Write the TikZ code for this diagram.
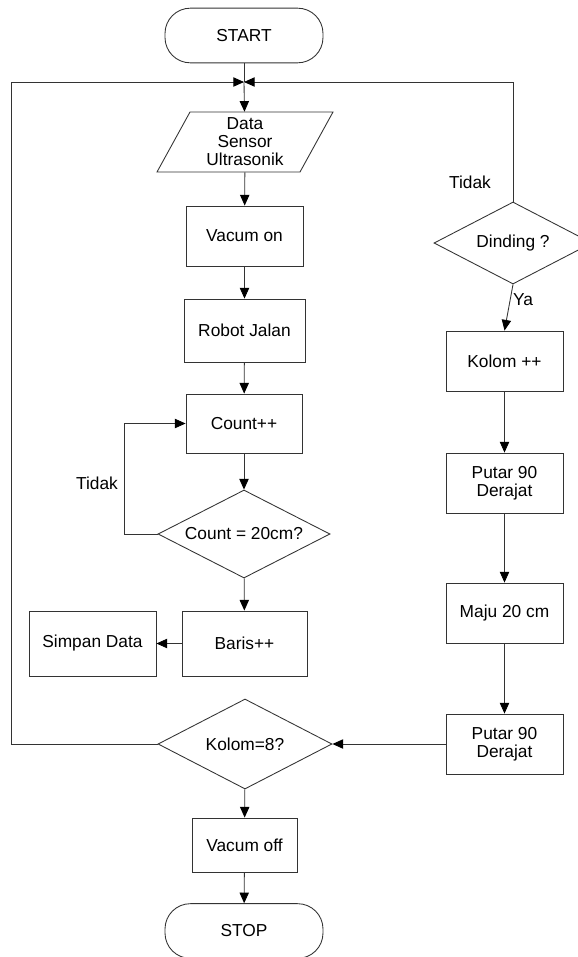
\documentclass[tikz,border=0pt]{standalone}
\usepackage{fontspec}
\setmainfont{Liberation Sans}
\usetikzlibrary{shapes.geometric,arrows.meta}
\begin{document}
\begin{tikzpicture}[x=0.75pt,y=-0.75pt,
  every node/.style={font=\fontsize{13}{13.5}\selectfont, text=black},
  ln/.style={draw=black!80, line width=0.65pt},
  arr/.style={ln, -{Triangle[length=8pt,width=7pt,color=black]}},
  term/.style={ln, rectangle, rounded corners=19pt, minimum width=118.5pt, minimum height=41pt},
  proc/.style={ln, rectangle, align=center, minimum width=87.75pt, minimum height=45pt},
  dec/.style={ln, diamond, shape aspect=2, inner sep=1pt, align=center},
  lbl/.style={inner sep=1pt}
]
\clip (0,0) rectangle (578,957);
\fill[white] (0,0) rectangle (578,957);

\node[term] (start) at (244,35.5) {START};
\coordinate (j) at (244,82);
\coordinate (jl) at (11,82);
\node[inner sep=0pt, minimum width=100pt, minimum height=45pt, align=center] (data) at (245,142) {Data\\Sensor\\Ultrasonik};
\draw[ln] (190,112) -- (333,112) -- (300,172) -- (157,172) -- cycle;
\node[proc] (von) at (244.5,236) {Vacum on};
\node[proc, minimum width=90.75pt, minimum height=47.25pt] (rj) at (244.5,330.5) {Robot Jalan};
\node[proc, minimum width=87pt, minimum height=44.25pt] (cnt) at (244,423.5) {Count++};
\node[dec, minimum width=129pt, minimum height=66pt] (c20) at (244,534) {Count = 20cm?};
\coordinate (lp) at (124,534);
\node[proc, minimum width=93.75pt, minimum height=48.75pt] (bar) at (244.5,643.5) {Baris++};
\node[proc, minimum width=95.25pt, minimum height=48.75pt] (simp) at (92.5,643.5) {Simpan Data};
\node[dec, minimum width=130.5pt, minimum height=67.5pt] (k8) at (245,744) {Kolom=8?};
\node[proc, minimum width=78.75pt, minimum height=40.5pt] (voff) at (244.5,845) {Vacum off};
\node[term] (stop) at (244,931) {STOP};

\node[dec, minimum width=118.5pt, minimum height=61.5pt] (ding) at (513,243) {Dinding ?};
\node[proc] (kol) at (504.5,361) {Kolom ++};
\node[proc] (p1) at (504.5,483) {Putar 90\\Derajat};
\node[proc] (maju) at (504.5,613) {Maju 20 cm};
\node[proc] (p2) at (504.5,744) {Putar 90\\Derajat};

\node[lbl] (t1) at (470,182) {Tidak};
\node[lbl] (ya) at (523,300) {Ya};
\node[lbl] (t2) at (97,483) {Tidak};

\draw[ln] (start) -- (j);
\draw[arr] (k8.west) -- (k8.west -| jl) -- (jl) -- (j);
\draw[arr] (ding.north) |- (j);
\draw[arr] (j) -- (data);
\draw[arr] (data) -- (von);
\draw[arr] (von) -- (rj);
\draw[arr] (rj) -- (cnt);
\draw[arr] (cnt) -- (c20);
\draw[arr] (c20.west) -- (lp) |- (cnt.west);
\draw[arr] (c20) -- (bar);
\draw[arr] (bar) -- (simp);
\draw[arr] (k8) -- (voff);
\draw[arr] (voff) -- (stop);
\draw[arr] (ding.south) -- (kol.north);
\draw[arr] (kol) -- (p1);
\draw[arr] (p1) -- (maju);
\draw[arr] (maju) -- (p2);
\draw[arr] (p2) -- (k8);
\end{tikzpicture}
\end{document}
